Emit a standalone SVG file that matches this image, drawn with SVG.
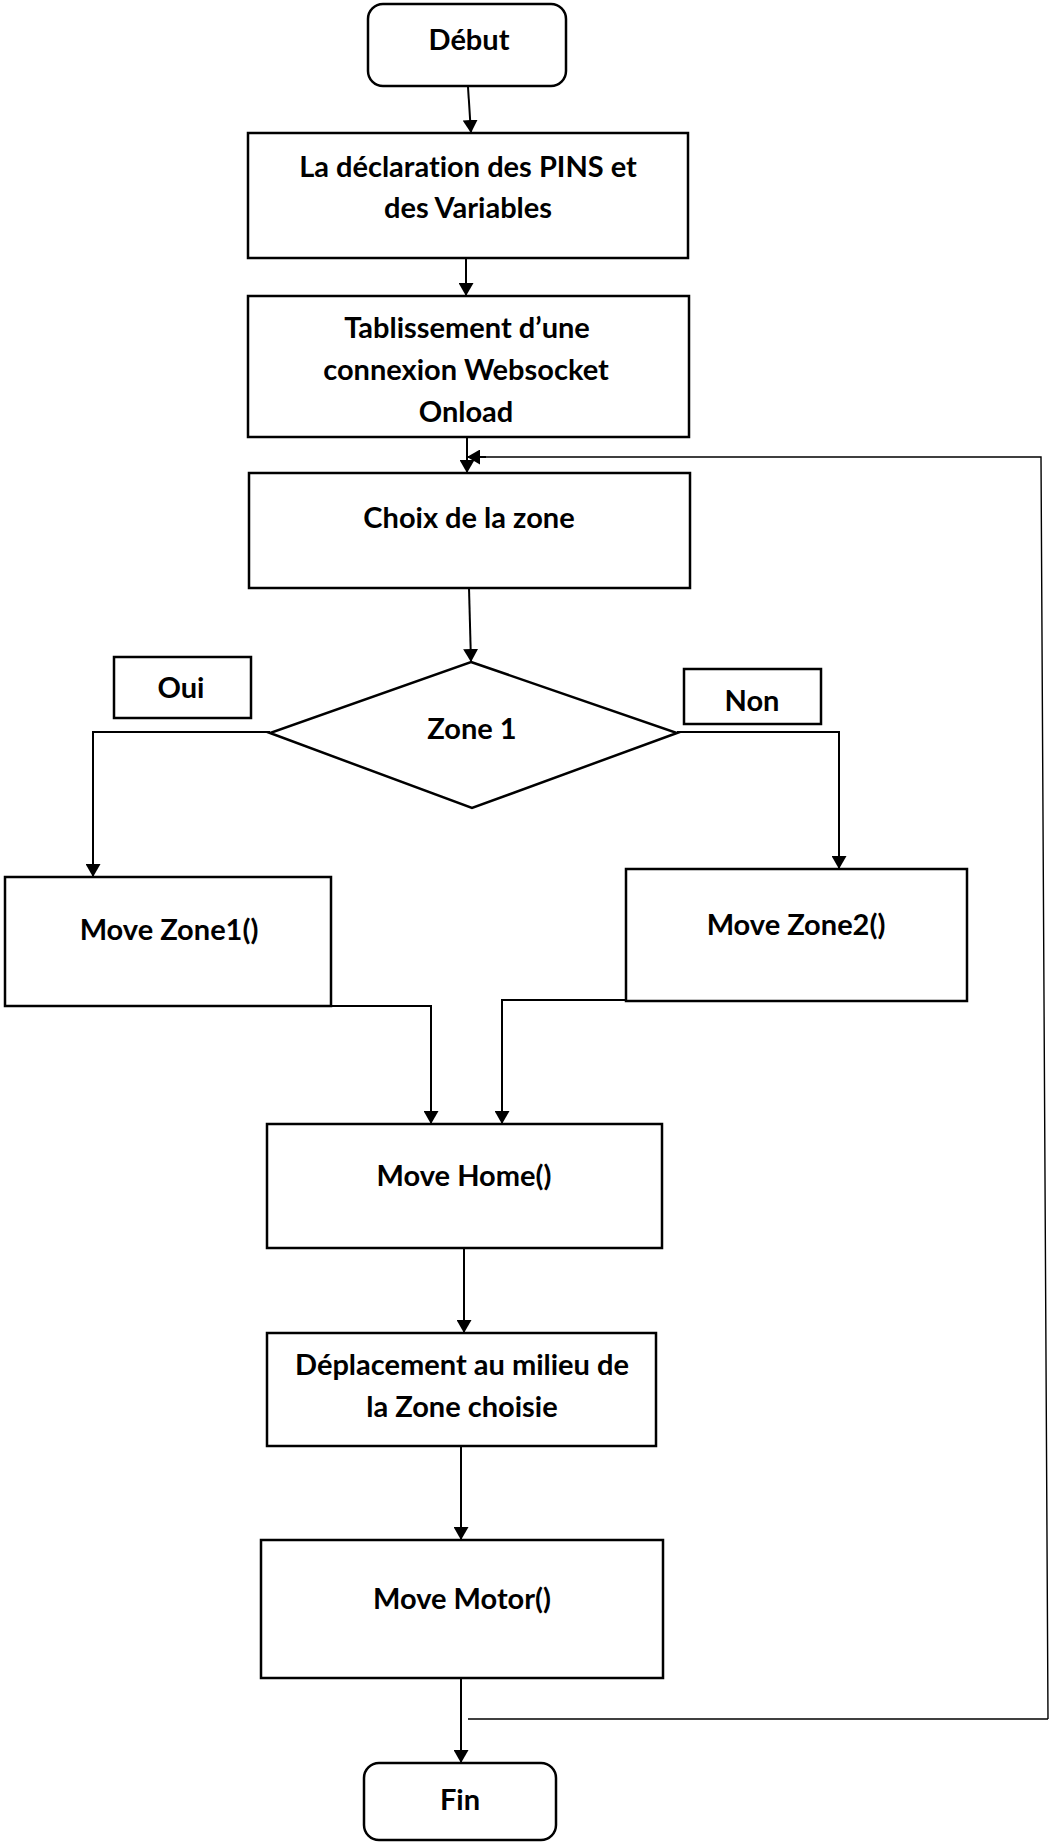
<svg xmlns="http://www.w3.org/2000/svg" width="1051" height="1843" viewBox="0 0 1051 1843">
<style>
.box{fill:#fff;stroke:#000;stroke-width:2.5}
.t{font-family:Lato,"Liberation Sans",sans-serif;font-weight:bold;font-size:29px;fill:#000;text-anchor:middle;font-variant-ligatures:none}
.c{fill:none;stroke:#000;stroke-width:2}
.thin{fill:none;stroke:#000;stroke-width:1.4}
</style>
<defs>
<marker id="ah" markerWidth="13" markerHeight="15" refX="13" refY="7.5" orient="auto" markerUnits="userSpaceOnUse">
<path d="M0,0 L13,7.5 L0,15 Z" fill="#000"/>
</marker>
</defs>
<rect width="1051" height="1843" fill="#fff"/>
<g id="connectors">
<path class="c" d="M468,87 L471,133" marker-end="url(#ah)"/>
<path class="c" d="M466,257 L466,296" marker-end="url(#ah)"/>
<path class="c" d="M467,437 L467,473" marker-end="url(#ah)"/>
<path class="thin" d="M1048,1719 L1041,457 L480,457"/>
<path class="c" d="M486,457 L467,457" marker-end="url(#ah)"/>
<path class="thin" d="M468,1719 L1048,1719"/>
<path class="c" d="M469,588 L471,662" marker-end="url(#ah)"/>
<path class="c" d="M270,732 L93,732 L93,877" marker-end="url(#ah)"/>
<path class="c" d="M677,732 L839,732 L839,869" marker-end="url(#ah)"/>
<path class="c" d="M93,1006 L431,1006 L431,1124" marker-end="url(#ah)"/>
<path class="c" d="M843,1000 L502,1000 L502,1124" marker-end="url(#ah)"/>
<path class="c" d="M464,1248 L464,1333" marker-end="url(#ah)"/>
<path class="c" d="M461,1446 L461,1540" marker-end="url(#ah)"/>
<path class="c" d="M461,1678 L461,1763" marker-end="url(#ah)"/>
</g>
<g id="debut"><rect class="box" x="368" y="4" width="198" height="82" rx="15"/><text class="t" x="469" y="50">Début</text></g>
<g id="declaration"><rect class="box" x="248" y="133" width="440" height="125"/><text class="t" x="468" y="177">La déclaration des PINS et</text><text class="t" x="468" y="218">des Variables</text></g>
<g id="websocket"><rect class="box" x="248" y="296" width="441" height="141"/><text class="t" x="467" y="338">Tablissement d’une</text><text class="t" x="466" y="380">connexion Websocket</text><text class="t" x="466" y="422">Onload</text></g>
<g id="choix"><rect class="box" x="249" y="473" width="441" height="115"/><text class="t" x="469" y="528">Choix de la zone</text></g>
<g id="zone1"><path class="box" d="M471,662 L677,733 L472,808 L270,733 Z"/><text class="t" x="472" y="739">Zone 1</text></g>
<g id="oui"><rect class="box" x="114" y="657" width="137" height="61"/><text class="t" x="181" y="698">Oui</text></g>
<g id="non"><rect class="box" x="684" y="669" width="137" height="55"/><text class="t" x="752" y="711">Non</text></g>
<g id="movezone1"><rect class="box" x="5" y="877" width="326" height="129"/><text class="t" x="169" y="940">Move Zone1()</text></g>
<g id="movezone2"><rect class="box" x="626" y="869" width="341" height="132"/><text class="t" x="796" y="935">Move Zone2()</text></g>
<g id="movehome"><rect class="box" x="267" y="1124" width="395" height="124"/><text class="t" x="464" y="1186">Move Home()</text></g>
<g id="deplacement"><rect class="box" x="267" y="1333" width="389" height="113"/><text class="t" x="462" y="1375">Déplacement au milieu de</text><text class="t" x="462" y="1417">la Zone choisie</text></g>
<g id="movemotor"><rect class="box" x="261" y="1540" width="402" height="138"/><text class="t" x="462" y="1609">Move Motor()</text></g>
<g id="fin"><rect class="box" x="364" y="1763" width="192" height="77" rx="15"/><text class="t" x="460" y="1810">Fin</text></g>
</svg>
